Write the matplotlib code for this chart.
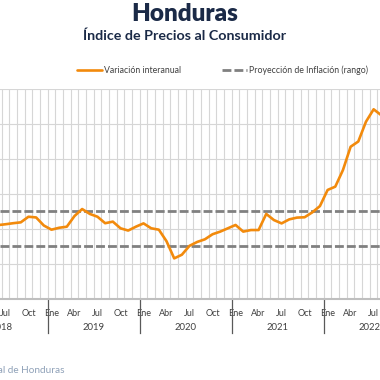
import numpy as np
import pandas as pd
import matplotlib
matplotlib.use("Agg")
import matplotlib.pyplot as plt

plt.rcParams["font.family"] = ["Lato", "DejaVu Sans"]

# monthly series, Jun 2018 .. Aug 2022 (year-on-year CPI, %)
months = pd.period_range("2018-06", "2022-08", freq="M")
inflation = [
    4.22, 4.27, 4.33, 4.38, 4.70, 4.66, 4.20,             # 2018 Jun-Dec
    3.96, 4.07, 4.13, 4.74, 5.14, 4.86, 4.70, 4.33, 4.42, 4.04, 3.91, 4.13,   # 2019
    4.32, 4.04, 3.96, 3.30, 2.32, 2.53, 3.04, 3.26, 3.41, 3.70, 3.85, 4.04,   # 2020
    4.23, 3.85, 3.94, 3.94, 4.86, 4.51, 4.32, 4.55, 4.65, 4.67, 4.95, 5.31,   # 2021
    6.23, 6.42, 7.37, 8.70, 9.00, 10.13, 10.84, 10.50,                        # 2022 Jan-Aug
]
target_low = 3.0
target_high = 5.0
month_names = ["Ene", "Feb", "Mar", "Abr", "May", "Jun",
               "Jul", "Ago", "Sep", "Oct", "Nov", "Dic"]
years = [2018, 2019, 2020, 2021, 2022]

# month index with Jan 2018 = 0
idx = np.array([(m.year - 2018) * 12 + m.month - 1 for m in months])

orange = "#f28a0c"
grey_dash = "#808080"
navy = "#1b2a47"
text_col = "#404040"

fig = plt.figure(figsize=(3.8, 3.8), dpi=100)
ax = fig.add_axes([0.0, 0.2132, 1.0, 0.5526])

ax.plot(idx, inflation, color=orange, lw=1.9, solid_joinstyle="round",
        solid_capstyle="round", zorder=4, label="Variación interanual")
ax.axhline(target_high, color=grey_dash, lw=2.0, ls=(0, (3.2, 1.1)), zorder=3,
           label="Proyección de Inflación (rango)")
ax.axhline(target_low, color=grey_dash, lw=2.0, ls=(0, (3.2, 1.1)), zorder=3)

# grid: horizontal every 2 points, vertical at month boundaries
for y in range(2, 13, 2):
    ax.axhline(y, color="#d6d6d6", lw=0.8, zorder=1)
for b in np.arange(-0.5, 60, 1.0):
    ax.axvline(b, color="#d6d6d6", lw=0.8, zorder=1)

for s in ["top", "right", "left"]:
    ax.spines[s].set_visible(False)
ax.spines["bottom"].set_color("#bfbfbf")
ax.spines["bottom"].set_linewidth(1.5)
ax.set_yticks([])
ax.tick_params(axis="x", length=0)

ticks = [i for i in range(0, 60) if i % 3 == 0]
ax.set_xticks(ticks)
ax.set_xticklabels([month_names[i % 12] for i in ticks], fontsize=6.5,
                   color=text_col)
ax.tick_params(axis="x", pad=7)

trans = ax.get_xaxis_transform()
for y in years:
    start = (y - 2018) * 12 - 0.5
    if y > 2018:
        ax.plot([start, start], [0, -0.162], color="#595959", lw=0.9,
                transform=trans, clip_on=False, scalex=False, scaley=False)
    ax.text(start + 6, -0.138, str(y), transform=trans, ha="center",
            va="center", fontsize=6.8, color=text_col)

ax.set_xlim(5.29, 54.83)
ax.set_ylim(0, 12)

fig.text(0.487, 0.962, "Honduras", ha="center", va="center", fontsize=17.5,
         fontweight="heavy", color=navy)
fig.text(0.487, 0.905, "Índice de Precios al Consumidor", ha="center",
         va="center", fontsize=10.3, fontweight="bold", color=navy)

handles, labels = ax.get_legend_handles_labels()
leg = fig.legend(handles, labels, loc="center", bbox_to_anchor=(0.586, 0.814),
                 ncol=2, frameon=False, fontsize=6.3, handlelength=2.9,
                 handletextpad=0.25, columnspacing=4.6)
for t in leg.get_texts():
    t.set_color(text_col)

fig.text(0.171, 0.026, "Fuente: Banco Central de Honduras", ha="right",
         va="center", fontsize=7.2, color="#8fa1b8")

fig.savefig("out.png", dpi=100)
